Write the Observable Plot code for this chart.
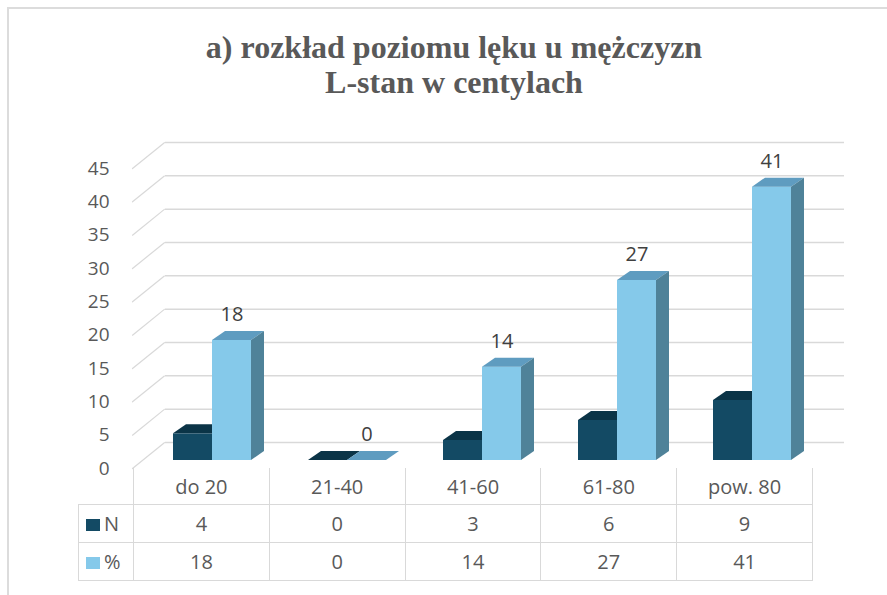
<!DOCTYPE html>
<html>
<head>
<meta charset="utf-8">
<script src="https://cdn.jsdelivr.net/npm/d3@7"></script>
<script src="https://cdn.jsdelivr.net/npm/@observablehq/plot@0.6"></script>
<style>
  html, body { margin: 0; padding: 0; background: #fff; }
  #wrap { position: relative; width: 887px; height: 595px; overflow: hidden; background: #fff; }
  #frame { position: absolute; left: 7px; top: 7px; width: 900px; height: 600px;
           border-top: 2px solid #dcdcdc; border-left: 2px solid #dcdcdc; box-sizing: border-box; }
  #title { position: absolute; left: 0; width: 908px; top: 30px; text-align: center;
           font-family: "Liberation Serif", "Times New Roman", serif; font-weight: bold;
           font-size: 32px; line-height: 35px; color: #595959; }
  #chart { position: absolute; left: 0; top: 0; }
  #tbl { position: absolute; left: 78px; top: 468px; border-collapse: collapse; table-layout: fixed;
         font-family: "Open Sans", "Noto Sans", sans-serif; font-size: 20px; color: #595959; }
  #tbl td { border: 1.5px solid #d9d9d9; text-align: center; padding: 0; white-space: nowrap; }
  #tbl tr.hdr td { border-top: none; height: 36px; }
  #tbl tr.row td { height: 37px; }
  #tbl td.lab0 { border-left: none; }
  #tbl td.lab { text-align: left; padding-left: 7px; border-left: 1.5px solid #d9d9d9; }
  .sw { display: inline-block; width: 14px; height: 12px; margin-right: 4px; vertical-align: 0px; }
</style>
</head>
<body>
<div id="wrap">
  <div id="frame"></div>
  <div id="chart"></div>
  <div id="title">a) rozkład poziomu lęku u mężczyzn<br>L-stan w centylach</div>
  <table id="tbl"></table>
</div>
<script>
// ---- data ----
const categories = ["do 20", "21-40", "41-60", "61-80", "pow. 80"];
const nValues = [4, 0, 3, 6, 9];
const pctValues = [18, 0, 14, 27, 41];
const seriesNames = ["N", "%"];
const yTicks = [0, 5, 10, 15, 20, 25, 30, 35, 40, 45];

// ---- styling ----
const colN = { front: "#134a64", top: "#0b3447", side: "#0e3a50" };
const colP = { front: "#85c9ea", top: "#5f9cc0", side: "#4f8299" };
const grid = "#d9d9d9";
const depthX = 13, depthY = 9;     // bar depth
const barW = 39;

const rows = categories.map((c, i) => ({ cat: c, n: nValues[i], pct: pctValues[i] }));

function bars3d(field, left, col) {
  return Plot.barY(rows, {
    x: "cat", y: field, fill: col.front,
    render(index, scales, values) {
      const g = d3.create("svg:g");
      for (const i of index) {
        const x0 = values.x[i] + left, x1 = x0 + barW;
        const a = values.y1[i], b = values.y2[i];
        const top = Math.min(a, b), bot = Math.max(a, b);
        g.append("rect").attr("x", x0).attr("y", top).attr("width", barW)
          .attr("height", bot - top).attr("fill", col.front);
        g.append("path").attr("fill", col.top)
          .attr("d", `M${x0},${top}L${x1},${top}L${x1 + depthX},${top - depthY}L${x0 + depthX},${top - depthY}Z`);
        g.append("path").attr("fill", col.side)
          .attr("d", `M${x1},${top}L${x1 + depthX},${top - depthY}L${x1 + depthX},${bot - depthY}L${x1},${bot}Z`);
      }
      return g.node();
    }
  });
}

const wallLine = { draw(context, l) { context.moveTo(0, 0); context.lineTo(0, -l); } };

const chart = Plot.plot({
  width: 887, height: 485,
  marginLeft: 133, marginRight: 75, marginTop: 150, marginBottom: 25,
  x: { domain: categories, range: [133, 812], padding: 0, axis: null },
  y: { domain: [0, 45], range: [460, 160], axis: null },
  style: { background: "transparent", fontFamily: "'Open Sans', 'Noto Sans', sans-serif" },
  marks: [
    // back wall gridlines
    Plot.ruleY(yTicks, { y: d => d, dx: 32, dy: -18, stroke: grid, strokeWidth: 1.5 }),
    // side wall diagonals
    Plot.vector(yTicks, { y: d => d, frameAnchor: "left", dx: -1, dy: 8, length: 41, rotate: 51,
      anchor: "start", shape: wallLine, stroke: grid, strokeWidth: 1.2 }),
    // y tick labels
    Plot.text(yTicks, { y: d => d, text: d => String(d), frameAnchor: "left", textAnchor: "end",
      dx: -24, dy: 8, fontSize: 19, fill: "#595959" }),
    bars3d("n", 38, colN),
    bars3d("pct", 77, colP),
    // data labels
    Plot.text(rows, { x: "cat", y: "pct", text: d => String(d.pct), dx: 29, dy: -26,
      fontSize: 20, fill: "#404040" })
  ]
});
document.getElementById("chart").appendChild(chart);

// ---- data table ----
const tbl = d3.select("#tbl");
const cg = tbl.append("colgroup");
cg.append("col").style("width", "55px");
categories.forEach(() => cg.append("col").style("width", "135.8px"));
tbl.style("width", (55 + 135.8 * categories.length) + "px");
const hdr = tbl.append("tr").attr("class", "hdr");
hdr.append("td").attr("class", "lab0");
categories.forEach(c => hdr.append("td").text(c));
[[seriesNames[0], nValues, colN.front], [seriesNames[1], pctValues, colP.front]].forEach(([name, vals, c]) => {
  const tr = tbl.append("tr").attr("class", "row");
  const td = tr.append("td").attr("class", "lab");
  td.append("span").attr("class", "sw").style("background", c);
  td.append("span").text(name);
  vals.forEach(v => tr.append("td").text(String(v)));
});
</script>
</body>
</html>
